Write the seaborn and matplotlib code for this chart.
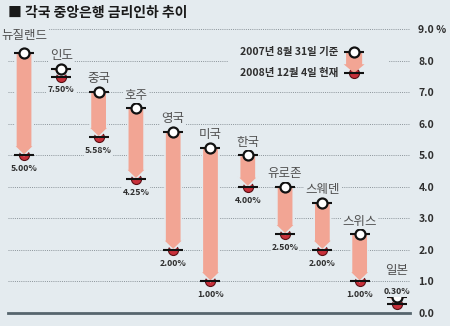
import matplotlib
matplotlib.use("Agg")
import matplotlib.pyplot as plt
from matplotlib.patches import FancyArrow, Rectangle
import seaborn as sns
import pandas as pd

# Policy rates (%) by central bank
countries = ["뉴질랜드", "인도", "중국", "호주", "영국", "미국", "한국", "유로존", "스웨덴", "스위스", "일본"]
rate_2007 = [8.25, 7.75, 7.02, 6.50, 5.75, 5.25, 5.00, 4.00, 3.50, 2.50, 0.50]
rate_2008 = [5.00, 7.50, 5.58, 4.25, 2.00, 1.00, 4.00, 2.50, 2.00, 1.00, 0.30]

tick_values = [0, 1, 2, 3, 4, 5, 6, 7, 8, 9]
tick_labels = ["0.0", "1.0", "2.0", "3.0", "4.0", "5.0", "6.0", "7.0", "8.0", "9.0 %"]
title = "■ 각국 중앙은행 금리인하 추이"
legend_labels = ["2007년 8월 31일 기준", "2008년 12월 4일 현재"]

BG = "#e4ebef"
ARROW = "#f2a594"
RED = "#c8303a"
INK = "#2e2e2e"
DOT = 52

sns.set_theme(style="white")
plt.rcParams["font.family"] = ["Noto Sans CJK KR", "DejaVu Sans"]

df = pd.DataFrame({"country": countries, "start": rate_2007, "end": rate_2008})
df["pos"] = range(len(df))

fig = plt.figure(figsize=(4.5, 3.26), dpi=100)
fig.patch.set_facecolor(BG)
ax = fig.add_axes([8 / 450, 13 / 326, 402 / 450, 293 / 326])
ax.set_facecolor(BG)
ax.set_xlim(-0.43, 10.35)
ax.set_ylim(0, 9.30)

# dotted horizontal grid and solid baseline
ax.set_yticks(tick_values)
ax.set_yticklabels(tick_labels, fontweight="bold")
ax.yaxis.tick_right()
ax.tick_params(axis="y", length=0, pad=6, labelsize=7.5, labelcolor=INK)
ax.set_xticks([])
ax.grid(axis="y", linestyle=(0, (1, 1.2)), color="#8b949a", linewidth=0.7, zorder=0)
ax.set_axisbelow(True)
for side in ["top", "left", "right"]:
    ax.spines[side].set_visible(False)
ax.spines["bottom"].set_color("#56656d")
ax.spines["bottom"].set_linewidth(2)

# arrows from old rate to new rate
for _, row in df.iterrows():
    length = row["start"] - row["end"]
    head = min(0.32, length)
    ax.add_patch(FancyArrow(row["pos"], row["start"], 0, -length, width=0.44,
                            head_width=0.56, head_length=head,
                            length_includes_head=True, facecolor=ARROW,
                            edgecolor=BG, linewidth=1.2, zorder=3))

# end markers (red) and start markers (white)
sns.scatterplot(data=df, x="pos", y="end", s=DOT, color=RED, edgecolor="#5a1015",
                linewidth=0.8, zorder=2, ax=ax, clip_on=False, legend=False)
sns.scatterplot(data=df, x="pos", y="end", marker="_", s=190, color="#111111",
                linewidth=1.5, zorder=4, ax=ax, clip_on=False, legend=False)
sns.scatterplot(data=df, x="pos", y="start", marker="_", s=190, color="#111111",
                linewidth=1.5, zorder=4, ax=ax, clip_on=False, legend=False)
sns.scatterplot(data=df, x="pos", y="start", s=DOT, color="white", edgecolor="#111111",
                linewidth=1.6, zorder=5, ax=ax, clip_on=False, legend=False)
ax.set_xlabel("")
ax.set_ylabel("")

# country names and new-rate labels
for _, row in df.iterrows():
    name_off = 9.5
    val_off = -9.5
    if row["country"] == "뉴질랜드":
        name_off = 12.5
    if row["country"] == "일본":
        name_off = 19
        val_off = 8.5
    ax.annotate(row["country"], (row["pos"], row["start"]), xytext=(0, name_off),
                textcoords="offset points", ha="center", va="center", fontsize=9,
                color="#505050", zorder=6,
                bbox=dict(boxstyle="square,pad=0.1", fc=BG, ec="none"))
    ax.annotate(f"{row['end']:.2f}%", (row["pos"], row["end"]), xytext=(0, val_off),
                textcoords="offset points", ha="center", va="center", fontsize=6.3,
                fontweight="bold", color=INK, zorder=6,
                bbox=dict(boxstyle="square,pad=0.1", fc=BG, ec="none"))

# legend
tr = ax.transAxes
ax.add_patch(Rectangle((0.547, 0.795), 0.40, 0.12, transform=tr, facecolor=BG,
                       edgecolor="none", zorder=1))
ax.add_patch(FancyArrow(0.861, 0.891, 0, -0.072, width=0.04, head_width=0.052,
                        head_length=0.03, length_includes_head=True, transform=tr,
                        facecolor=ARROW, edgecolor="none", zorder=3))
ax.scatter([0.861], [0.819], s=DOT, color=RED, edgecolor="#5a1015", linewidth=0.8,
           transform=tr, zorder=2)
ax.scatter([0.861, 0.861], [0.891, 0.819], marker="_", s=190, color="#111111",
           linewidth=1.5, transform=tr, zorder=4)
ax.scatter([0.861], [0.891], s=DOT, color="white", edgecolor="#111111", linewidth=1.6,
           transform=tr, zorder=5)
ax.text(0.821, 0.891, legend_labels[0], transform=tr, ha="right", va="center",
        fontsize=7.5, fontweight="bold", color=INK, zorder=6)
ax.text(0.821, 0.819, legend_labels[1], transform=tr, ha="right", va="center",
        fontsize=7.5, fontweight="bold", color=INK, zorder=6)

fig.text(8 / 450, 1 - 13 / 326, title, fontsize=10, fontweight="bold", color="#1a1a1a",
         va="center", ha="left")

fig.savefig("out.png", dpi=100, facecolor=BG)
